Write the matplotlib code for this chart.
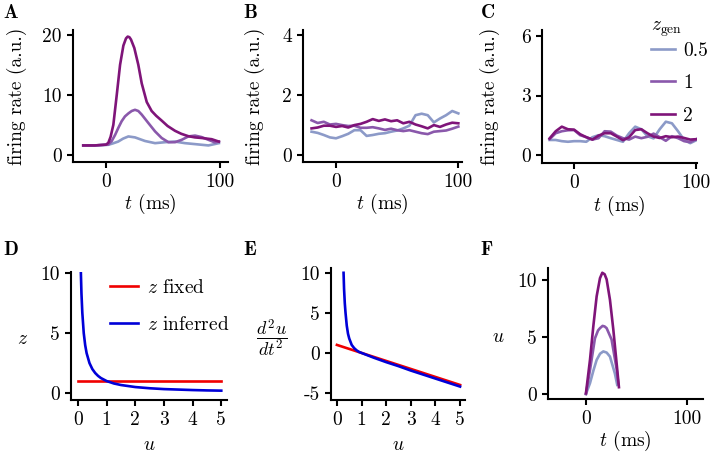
import numpy as np
import matplotlib
matplotlib.use("Agg")
import matplotlib.pyplot as plt

plt.rcParams['font.family'] = 'cmr10'
plt.rcParams['mathtext.fontset'] = 'cm'
plt.rcParams['axes.unicode_minus'] = False
plt.rcParams['axes.formatter.use_mathtext'] = False
plt.rcParams['font.size'] = 14

# colours for z_gen = 0.5, 1, 2
zgen_labels = ['0.5', '1', '2']
zgen_colors = ['#8c9ac8', '#8a58ab', '#7f1479']

# panel A: mean firing rate
tA = [-20, -10, 0, 2, 4, 6.4, 9.4, 12.3, 15.2, 17.5, 19, 20.5, 21.9, 24.8, 28.3,
      31.3, 35.7, 40, 44, 48.8, 54, 60.5, 66, 72.2, 78, 83.9, 92.7, 99]
rateA_2 = [1.56, 1.56, 1.7, 2.0, 3.0, 5.0, 10.0, 15.0, 18.2, 19.4, 19.7, 19.6, 19.2,
           17.8, 15.0, 11.9, 8.8, 7.3, 6.5, 5.7, 4.8, 4.0, 3.5, 3.1, 2.9, 2.8, 2.6, 2.2]
tA_mid = [-20, -10, 2, 5, 7.9, 10.8, 13.7, 16.6, 19.6, 22.5, 25.4, 28.3, 31.3, 37.1,
          43.0, 48.8, 54.7, 60.5, 66.4, 72.2, 78.1, 83.9, 89.8, 95.6, 99]
rateA_1 = [1.56, 1.56, 1.7, 2.3, 3.3, 4.5, 5.6, 6.4, 6.9, 7.3, 7.5, 7.3, 6.7, 5.3,
           3.9, 2.8, 2.1, 2.1, 2.5, 3.06, 3.2, 2.95, 2.5, 2.06, 2.2]
tA_low = [-20, -10, 2, 6, 10.6, 15, 19.6, 25.4, 34.2, 43.0, 51.8, 60.5, 69.3, 78.1,
          89.8, 99]
rateA_05 = [1.56, 1.56, 1.67, 1.9, 2.2, 2.7, 3.06, 2.9, 2.3, 1.94, 2.1, 2.2, 1.94,
            1.78, 1.56, 1.94]

# panels B, C: single-trial rates on a 5 ms grid
t_grid = list(range(-20, 101, 5))
rateB_2 = [0.89, 0.92, 0.98, 0.98, 0.94, 0.97, 0.92, 1.0, 1.04, 1.11, 1.2, 1.14, 1.19,
           1.13, 1.16, 1.06, 1.11, 1.02, 0.96, 0.89, 1.0, 0.94, 1.02, 1.08, 1.06]
rateB_1 = [1.16, 1.07, 1.11, 1.02, 1.04, 1.0, 0.97, 0.98, 0.91, 0.91, 0.93, 0.89, 0.84,
           0.88, 0.83, 0.8, 0.83, 0.78, 0.73, 0.7, 0.78, 0.8, 0.82, 0.88, 0.95]
rateB_05 = [0.78, 0.74, 0.67, 0.59, 0.56, 0.63, 0.71, 0.83, 0.83, 0.64, 0.67, 0.71, 0.73,
            0.78, 0.82, 0.89, 0.98, 1.33, 1.38, 1.33, 1.09, 1.22, 1.33, 1.47, 1.39]
rateC_2 = [0.84, 1.2, 1.43, 1.3, 1.28, 1.05, 0.9, 0.78, 0.98, 1.1, 1.1, 0.93, 0.75,
           0.9, 1.26, 1.3, 1.1, 0.93, 0.86, 0.95, 0.9, 0.93, 0.86, 0.78, 0.8]
rateC_1 = [0.8, 1.1, 1.2, 1.25, 1.26, 1.0, 0.9, 0.78, 0.85, 1.2, 1.18, 0.98, 0.85,
           0.78, 0.93, 0.85, 0.92, 1.08, 0.9, 0.72, 0.95, 0.85, 0.7, 0.65, 0.8]
rateC_05 = [0.76, 0.76, 0.7, 0.67, 0.7, 0.7, 0.67, 0.9, 1.0, 0.95, 0.85, 0.76, 0.67,
            1.1, 1.43, 1.3, 0.95, 0.84, 1.3, 1.68, 1.6, 1.2, 0.76, 0.6, 0.75]

# panel D: z as function of u
uD_fixed = [0, 5]
zD_fixed = [1, 1]
uD = [0.1, 0.12, 0.15, 0.2, 0.25, 0.3, 0.4, 0.5, 0.6, 0.7, 0.8, 1.0, 1.25, 1.5,
      2.0, 2.5, 3.0, 3.5, 4.0, 4.5, 5.0]
zD_inferred = [10, 8.3, 6.7, 5.0, 4.0, 3.33, 2.5, 2.0, 1.67, 1.43, 1.25, 1.0, 0.8,
               0.67, 0.5, 0.4, 0.33, 0.29, 0.25, 0.22, 0.2]

# panel E: d2u/dt2 as function of u
uE_fixed = [0, 5]
accE_fixed = [1, -4]
uE = [0.27, 0.29, 0.32, 0.35, 0.4, 0.45, 0.5, 0.6, 0.7, 0.8, 0.9, 1.0, 1.25, 1.5,
      2.0, 2.5, 3.0, 3.5, 4.0, 4.5, 5.0]
accE_inferred = [10, 8.0, 6.2, 5.0, 3.4, 2.4, 1.8, 1.0, 0.6, 0.32, 0.12, 0.0, -0.3,
                 -0.6, -1.15, -1.65, -2.2, -2.7, -3.2, -3.7, -4.2]

# panel F: u trajectories
tF = [0, 4, 7.3, 10.6, 13.9, 16.2, 18.5, 20.5, 23.8, 27.1, 30.4, 32.7]
uF_2 = [0.06, 3.0, 5.96, 8.6, 10.2, 10.68, 10.55, 10.1, 8.3, 5.7, 2.7, 0.6]
tF_mid = [0, 4, 8.9, 12, 13.9, 16.5, 18.5, 20.5, 25.4, 30.4, 32]
uF_1 = [0.0, 2.1, 4.9, 5.6, 5.8, 6.0, 5.95, 5.8, 4.8, 2.2, 0.95]
tF_low = [0, 4, 7.5, 10.6, 14, 17.2, 20.5, 23.8, 28.7, 31]
uF_05 = [0.0, 0.95, 2.1, 3.0, 3.55, 3.75, 3.65, 3.3, 1.8, 0.8]

W, H = 714, 457
fig = plt.figure(figsize=(W / 100, H / 100), dpi=100)


def make_ax(l, r, t, b):
    ax = fig.add_axes([l / W, 1 - b / H, (r - l) / W, (b - t) / H])
    for s in ['top', 'right']:
        ax.spines[s].set_visible(False)
    for s in ['left', 'bottom']:
        ax.spines[s].set_linewidth(1.5)
    ax.tick_params(direction='out', length=4, width=1.5, labelsize=14, pad=4)
    return ax


lw = 1.9

axA = make_ax(73, 228, 30, 162)
axA.plot(tA_low, rateA_05, color=zgen_colors[0], lw=lw)
axA.plot(tA_mid, rateA_1, color=zgen_colors[1], lw=lw)
axA.plot(tA, rateA_2, color=zgen_colors[2], lw=lw)
axA.set_xlim(-29, 107)
axA.set_ylim(-1.2, 20.8)
axA.set_xticks([0, 100])
axA.set_yticks([0, 10, 20])

axB = make_ax(303, 462, 30, 162)
axB.plot(t_grid, rateB_05, color=zgen_colors[0], lw=lw)
axB.plot(t_grid, rateB_1, color=zgen_colors[1], lw=lw)
axB.plot(t_grid, rateB_2, color=zgen_colors[2], lw=lw)
axB.set_xlim(-27, 103)
axB.set_ylim(-0.23, 4.17)
axB.set_xticks([0, 100])
axB.set_yticks([0, 2, 4])

axC = make_ax(542, 697, 30, 163)
lines = []
for vals, c, lab in zip([rateC_05, rateC_1, rateC_2], zgen_colors, zgen_labels):
    ln, = axC.plot(t_grid, vals, color=c, lw=lw, label=lab)
    lines.append(ln)
axC.set_xlim(-26.2, 100.5)
axC.set_ylim(-0.4, 6.3)
axC.set_xticks([0, 100])
axC.set_yticks([0, 3, 6])
leg = axC.legend(handles=lines, title=r'$z_{\rm gen}$', frameon=False,
                 loc='upper left', bbox_to_anchor=(651 / W, 1 - 17 / H),
                 bbox_transform=fig.transFigure, handlelength=1.25,
                 handletextpad=0.4, labelspacing=0.74, fontsize=14,
                 title_fontsize=14, borderaxespad=0, borderpad=0)
leg._legend_box.align = 'left'
leg._legend_box.sep = 2

for ax in [axA, axB, axC]:
    ax.set_xlabel(r'$t$ (ms)')
    ax.set_ylabel('firing rate (a.u.)')
axA.yaxis.set_label_coords(-0.30, 0.5)
axB.yaxis.set_label_coords(-0.24, 0.5)
axC.yaxis.set_label_coords(-0.27, 0.5)
for ax in [axA, axB, axC]:
    ax.xaxis.set_label_coords(0.5, -0.23)

axD = make_ax(71, 227, 272, 400)
axD.plot(uD_fixed, zD_fixed, color='#f00000', lw=lw, label=r'$z$ fixed')
axD.plot(uD, zD_inferred, color='#0000d8', lw=lw, label=r'$z$ inferred')
axD.set_xlim(-0.245, 5.2)
axD.set_ylim(-0.58, 10.1)
axD.set_xticks([0, 1, 2, 3, 4, 5])
axD.set_yticks([0, 5, 10])
axD.legend(frameon=False, loc='upper left', bbox_to_anchor=(110 / W, 1 - 279 / H),
           bbox_transform=fig.transFigure, handlelength=1.45, handletextpad=0.45,
           labelspacing=0.98, fontsize=14, borderaxespad=0, borderpad=0)
axD.set_xlabel(r'$u$')
axD.set_ylabel(r'$z$', rotation=0, va='center', ha='center')
axD.xaxis.set_label_coords(0.5, -0.28)
axD.yaxis.set_label_coords(-0.31, 0.48)

axE = make_ax(331, 465, 268, 400)
axE.plot(uE_fixed, accE_fixed, color='#f00000', lw=lw)
axE.plot(uE, accE_inferred, color='#0000d8', lw=lw)
axE.set_xlim(-0.24, 5.2)
axE.set_ylim(-5.875, 10.6)
axE.set_xticks([0, 1, 2, 3, 4, 5])
axE.set_yticks([-5, 0, 5, 10])
axE.set_xlabel(r'$u$')
axE.set_ylabel(r'$\dfrac{d^2u}{dt^2}$', rotation=0, va='center', ha='center',
               fontsize=13)
axE.xaxis.set_label_coords(0.5, -0.27)
axE.yaxis.set_label_coords(-0.44, 0.47)

axF = make_ax(548, 703, 268, 399)
axF.plot(tF_low, uF_05, color=zgen_colors[0], lw=lw)
axF.plot(tF_mid, uF_1, color=zgen_colors[1], lw=lw)
axF.plot(tF, uF_2, color=zgen_colors[2], lw=lw)
axF.set_xlim(-37.6, 116)
axF.set_ylim(-0.44, 11.1)
axF.set_xticks([0, 100])
axF.set_yticks([0, 5, 10])
axF.set_xlabel(r'$t$ (ms)')
axF.set_ylabel(r'$u$', rotation=0, va='center', ha='center')
axF.xaxis.set_label_coords(0.5, -0.23)
axF.yaxis.set_label_coords(-0.32, 0.47)

# panel letters
for letter, x, y in [('A', 3, 18), ('B', 243, 18), ('C', 480, 18),
                     ('D', 3, 255), ('E', 243, 255), ('F', 480, 255)]:
    fig.text(x / W, 1 - y / H, r'$\mathbf{%s}$' % letter, fontsize=14,
             ha='left', va='baseline')

fig.savefig('out.png', dpi=100)
